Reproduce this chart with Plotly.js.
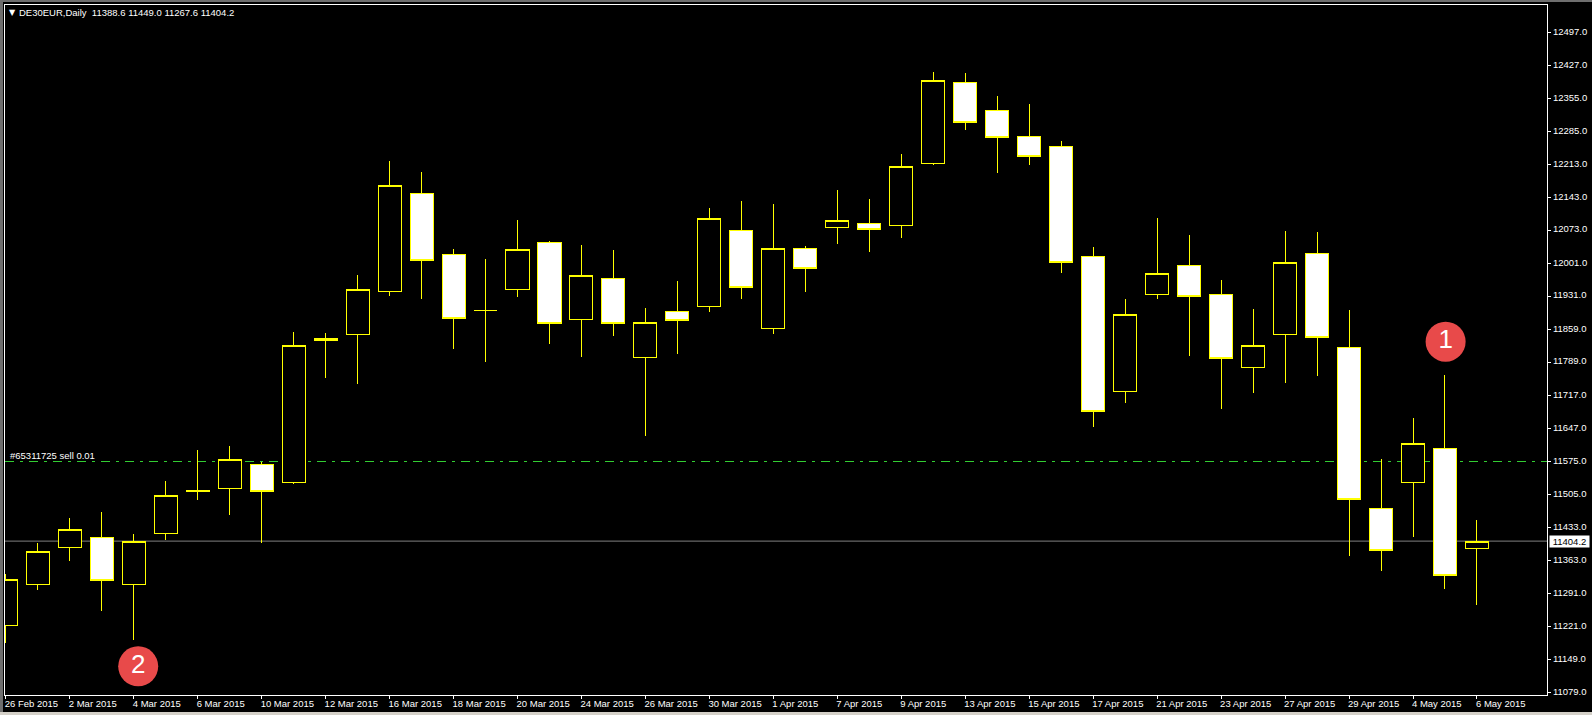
<!DOCTYPE html>
<html>
<head>
<meta charset="utf-8">
<script src="https://cdn.plot.ly/plotly-3.0.1.min.js"></script>
<style>
html,body{margin:0;padding:0;background:#000;overflow:hidden;width:1592px;height:715px}
#chart{position:absolute;left:0;top:0;width:1592px;height:715px}
.edge{position:absolute;z-index:5}
.boxlayer path{shape-rendering:crispEdges !important}
</style>
</head>
<body>
<div id="chart"></div>
<div class="edge" style="left:0;top:0;width:1592px;height:2px;background:#6e6e6e"></div>
<div class="edge" style="left:0;top:0;width:3px;height:712px;background:#6e6e6e"></div>
<div class="edge" style="left:0;top:712px;width:1592px;height:3px;background:#d4d0c8"></div>
<script>
const dates = ['26 Feb 2015','27 Feb 2015','2 Mar 2015','3 Mar 2015','4 Mar 2015','5 Mar 2015','6 Mar 2015','9 Mar 2015','10 Mar 2015','11 Mar 2015','12 Mar 2015','13 Mar 2015','16 Mar 2015','17 Mar 2015','18 Mar 2015','19 Mar 2015','20 Mar 2015','23 Mar 2015','24 Mar 2015','25 Mar 2015','26 Mar 2015','27 Mar 2015','30 Mar 2015','31 Mar 2015','1 Apr 2015','2 Apr 2015','7 Apr 2015','8 Apr 2015','9 Apr 2015','10 Apr 2015','13 Apr 2015','14 Apr 2015','15 Apr 2015','16 Apr 2015','17 Apr 2015','20 Apr 2015','21 Apr 2015','22 Apr 2015','23 Apr 2015','24 Apr 2015','27 Apr 2015','28 Apr 2015','29 Apr 2015','30 Apr 2015','4 May 2015','5 May 2015','6 May 2015'];
const open = [11223,11311.1,11390.6,11412.1,11311.1,11420.7,11513.1,11517.4,11569,11530.3,11839.7,11848.3,11942,12151.3,12020.2,11899.9,11945,12046,11880.5,11968.6,11798.9,11897.7,11908.5,12071.8,11861.2,12033.1,12078.2,12086.8,12082.5,12215.7,12389.8,12329.6,12273.7,12252.3,12015.9,11725.8,11934.3,11996.6,11934.3,11777.4,11848.3,12022.3,11820.4,11474.4,11530.3,11603.3,11388.6];
const high = [11333.3,11399.2,11453.6,11466.5,11419.2,11533.1,11599.7,11608.3,11575.4,11853.2,11851.1,11975.7,12220.7,12197,12031.6,12010.1,12093.9,12048.8,12040.2,12029.4,11904.8,11962.8,12119.7,12134.7,12128.3,12038,12158.4,12139,12235.7,12411.9,12409.8,12360.3,12343.2,12263.6,12035.9,11924.1,12098.2,12061.7,11965,11902.7,12070.3,12068.1,11900.5,11580.4,11668.5,11760.8,11449];
const low = [11185.6,11298.9,11361.8,11254.4,11192.1,11407,11492.9,11460.7,11400.5,11527.3,11754.4,11741.5,11931.2,11924.1,11817.4,11789.4,11929.1,11828.1,11800.2,11845.3,11630.4,11806.6,11896.9,11924.8,11849.6,11939.8,12043,12025.8,12055.9,12212.7,12287.9,12195.5,12212.7,11980.7,11649.8,11701.3,11924.8,11802.3,11688.4,11722.8,11744.3,11759.3,11372.6,11340.3,11413.4,11301.7,11267.6];
const close = [11321.9,11382,11429.3,11319.7,11403.5,11502.4,11511,11579.7,11511,11824.7,11835.4,11945,12168.5,12007.3,11882.7,11899.9,12031,11871.9,11975.1,11871.9,11874.1,11878.4,12097.6,11949.3,12033.1,11990.1,12093.3,12073.9,12209.3,12394.1,12303.8,12271.6,12230.8,12003,11682.9,11891.3,11979.4,11930,11796.7,11824.7,12003,11841.9,11493.8,11384.2,11614.1,11330.5,11404.2];
const yTicks = [12497,12427,12355,12285,12213,12143,12073,12001,11931,11859,11789,11717,11647,11575,11505,11433,11363,11291,11221,11149,11079];
const xTickLabels = ['26 Feb 2015','2 Mar 2015','4 Mar 2015','6 Mar 2015','10 Mar 2015','12 Mar 2015','16 Mar 2015','18 Mar 2015','20 Mar 2015','24 Mar 2015','26 Mar 2015','30 Mar 2015','1 Apr 2015','7 Apr 2015','9 Apr 2015','13 Apr 2015','15 Apr 2015','17 Apr 2015','21 Apr 2015','23 Apr 2015','27 Apr 2015','29 Apr 2015','4 May 2015','6 May 2015'];
const lastPrice = 11404.2;
const orderPrice = 11575.4;
const orderLabel = '#65311725 sell 0.01';
const header = 'DE30EUR,Daily&nbsp;&nbsp;11388.6 11449.0 11267.6 11404.2';
const calloutX = [45.02, 4.14];
const calloutY = [11833, 11135];
const calloutText = ['1', '2'];

const FONT = '"Liberation Sans",Arial,sans-serif';
const FS = 9.5;
const index = dates.map((d, i) => i);

const traces = [
  {
    type: 'candlestick',
    x: index, open: open, high: high, low: low, close: close,
    increasing: {line: {color: '#ffff00', width: 1}, fillcolor: '#000000'},
    decreasing: {line: {color: '#ffff00', width: 1}, fillcolor: '#ffffff'},
    whiskerwidth: 0,
    hoverinfo: 'skip',
    showlegend: false
  },
  {
    type: 'scatter',
    mode: 'markers+text',
    x: calloutX, y: calloutY, text: calloutText,
    marker: {size: 40, color: '#e84a4a', line: {width: 0}},
    textposition: 'middle center',
    textfont: {family: '"Liberation Sans",Arial,sans-serif', size: 26, color: '#ffffff'},
    hoverinfo: 'skip',
    showlegend: false
  }
];

const layout = {
  width: 1592, height: 715,
  margin: {l: 4.5, r: 44.5, t: 4.5, b: 20, pad: 0},
  paper_bgcolor: '#000000',
  plot_bgcolor: '#000000',
  showlegend: false,
  boxgap: 0.28,
  boxgroupgap: 0,
  font: {family: FONT, size: FS, color: '#ffffff'},
  xaxis: {
    type: 'linear',
    range: [-0.025, 48.19],
    rangeslider: {visible: false},
    tickmode: 'array',
    tickvals: xTickLabels.map(l => dates.indexOf(l)),
    ticktext: xTickLabels,
    tickangle: 0,
    ticks: 'outside', ticklen: 3, tickwidth: 1, tickcolor: '#ffffff',
    ticklabelposition: 'outside right',
    ticklabelshift: -2,
    showgrid: false, zeroline: false,
    showline: true, linecolor: '#ffffff', linewidth: 1, mirror: true,
    tickfont: {family: FONT, size: FS, color: '#ffffff'}
  },
  yaxis: {
    type: 'linear',
    side: 'right',
    range: [11073.3, 12557],
    tickmode: 'array',
    tickvals: yTicks,
    ticktext: yTicks.map(v => v.toFixed(1)),
    ticks: 'outside', ticklen: 3, tickwidth: 1, tickcolor: '#ffffff',
    ticklabelshift: -1,
    showgrid: false, zeroline: false,
    showline: true, linecolor: '#ffffff', linewidth: 1, mirror: true,
    tickfont: {family: FONT, size: FS, color: '#ffffff'}
  },
  shapes: [
    {type: 'line', layer: 'below', xref: 'paper', x0: 0, x1: 1, yref: 'y', y0: lastPrice, y1: lastPrice,
     line: {color: '#808080', width: 1}},
    {type: 'line', layer: 'below', xref: 'paper', x0: 0, x1: 1, yref: 'y', y0: orderPrice, y1: orderPrice,
     line: {color: '#32cd32', width: 1, dash: '9px,6px,3px,6px'}}
  ],
  annotations: [
    {xref: 'paper', yref: 'paper', x: 0.0079, y: 1.0003, xanchor: 'left', yanchor: 'top', showarrow: false,
     text: header, font: {family: FONT, size: FS, color: '#ffffff'}},
    {xref: 'paper', yref: 'paper', x: 0.0013, y: 0.9985, xanchor: 'left', yanchor: 'top', showarrow: false,
     text: '▼', font: {family: 'DejaVu Sans', size: 8, color: '#ffffff'}},
    {xref: 'paper', yref: 'y', x: 0.002, y: orderPrice, yshift: 6, xanchor: 'left', yanchor: 'middle', showarrow: false,
     text: orderLabel, font: {family: FONT, size: FS, color: '#ffffff'}},
    {xref: 'paper', yref: 'y', x: 1.0016, y: lastPrice, xanchor: 'left', yanchor: 'middle', showarrow: false,
     text: lastPrice.toFixed(1), bgcolor: '#ffffff', borderpad: 0, width: 39, height: 11,
     font: {family: FONT, size: FS, color: '#000000'}}
  ]
};

Plotly.newPlot('chart', traces, layout, {displayModeBar: false, staticPlot: true});
</script>
</body>
</html>
